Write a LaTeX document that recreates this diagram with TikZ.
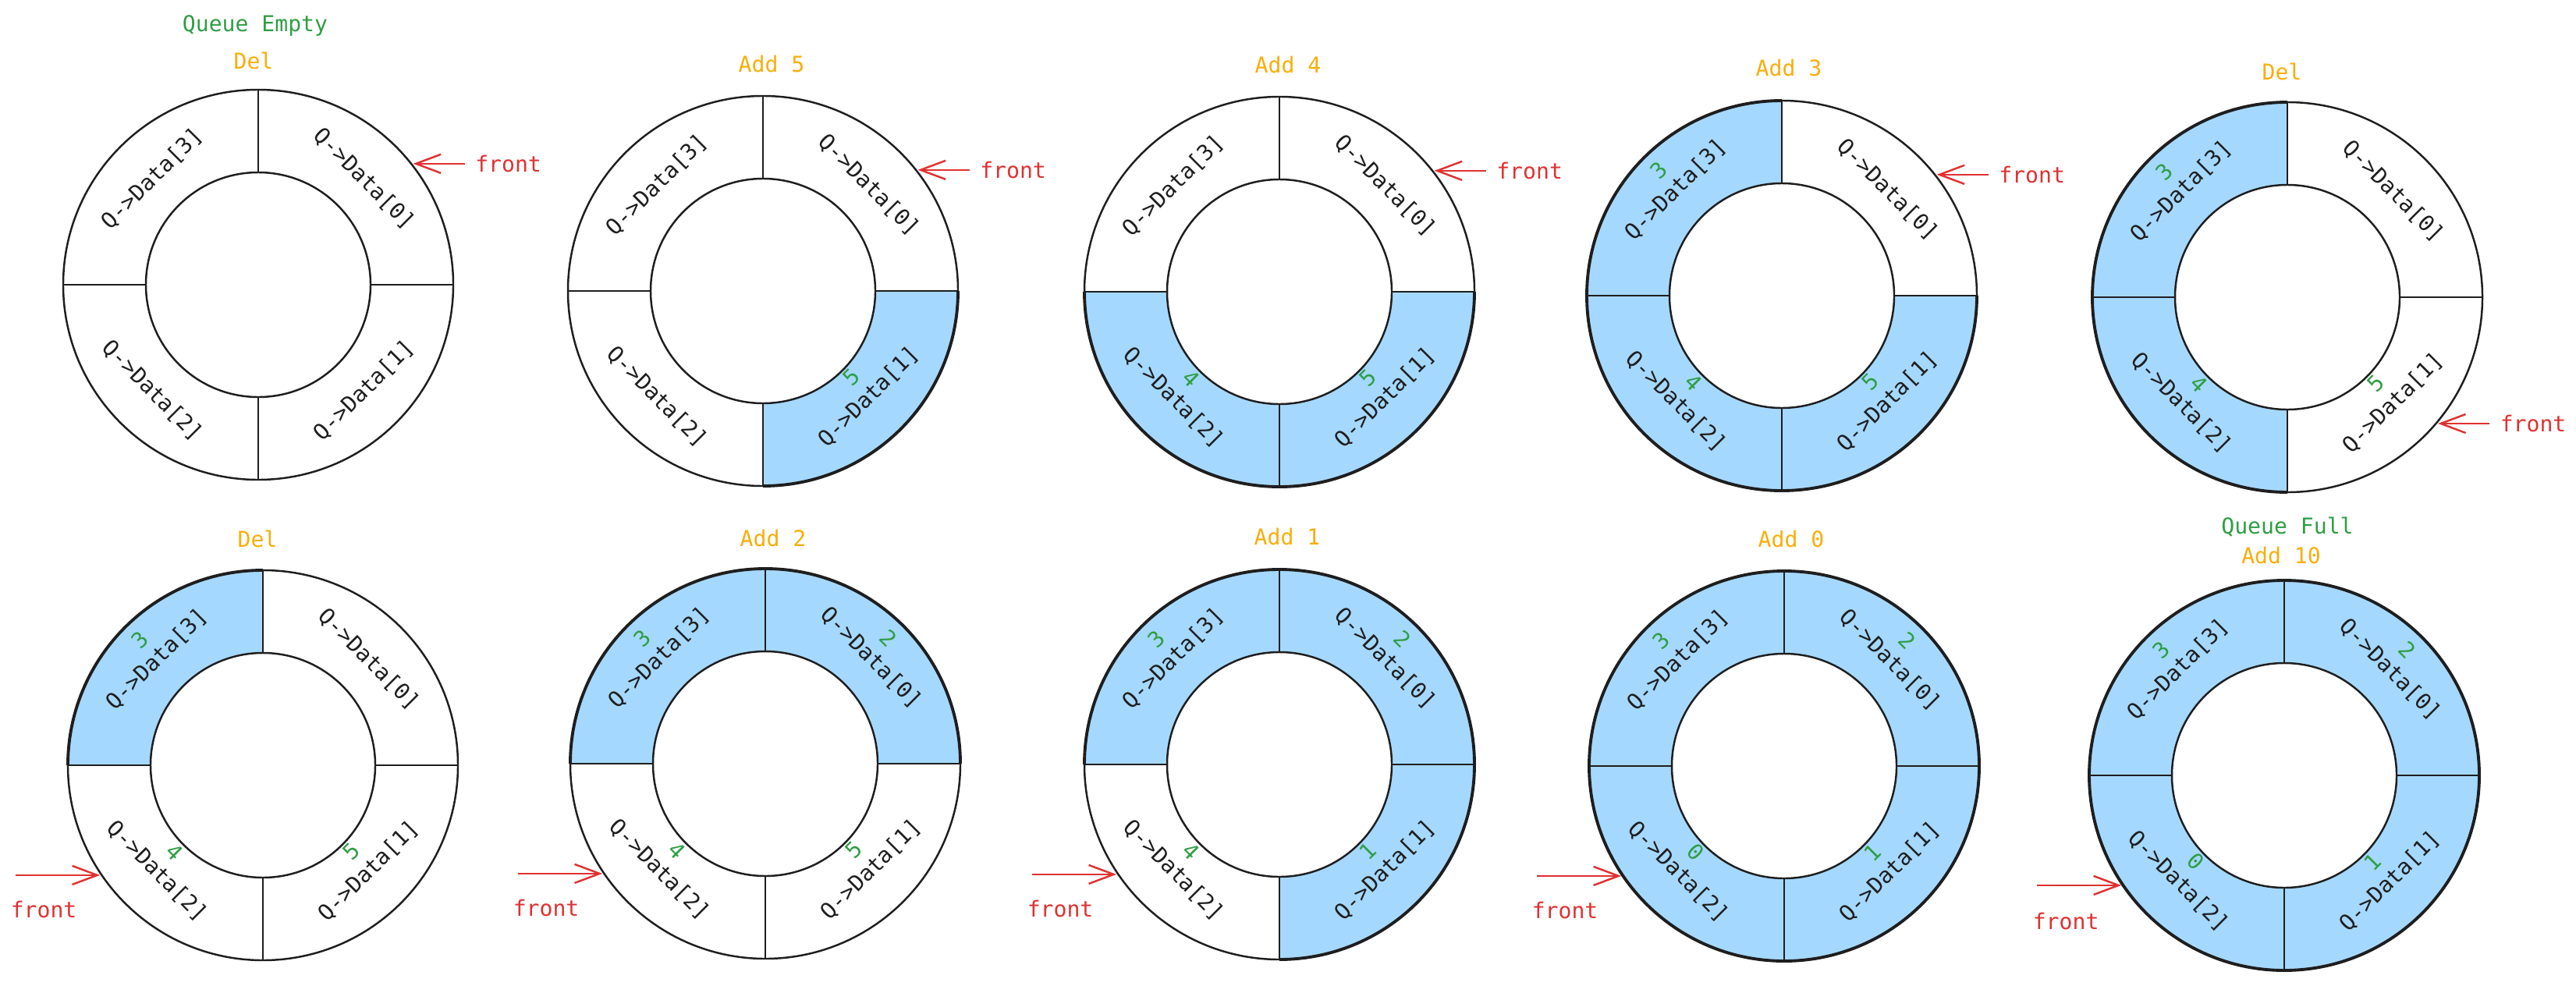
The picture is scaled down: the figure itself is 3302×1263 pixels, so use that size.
\documentclass[tikz,border=0pt]{standalone}
\usepackage{fontspec}
\setmonofont{DejaVu Sans Mono}
\usetikzlibrary{arrows.meta,positioning}
\definecolor{qblue}{HTML}{A5D8FF}
\definecolor{qgreen}{HTML}{2F9E44}
\definecolor{qorange}{HTML}{FAAD0A}
\definecolor{qred}{HTML}{E03131}
\definecolor{qink}{HTML}{1E1E1E}
\tikzset{
  ringline/.style={draw=qink, line width=0.7pt},
  slotlbl/.style={rotate=#1, font=\ttfamily\fontsize{8}{9}\selectfont,
                  text=qink, inner sep=1pt},
  numlbl/.style={rotate=#1, font=\ttfamily\fontsize{8}{9}\selectfont,
                 text=qgreen, inner sep=1pt},
  oplbl/.style={font=\ttfamily\fontsize{8}{9}\selectfont, text=qorange},
  statelbl/.style={font=\ttfamily\fontsize{8}{9}\selectfont, text=qgreen},
  frontlbl/.style={font=\ttfamily\fontsize{8}{9}\selectfont, text=qred,
                   inner sep=1.3mm},
  frontarrow/.style={draw=qred, line width=0.7pt,
                     -{Straight Barb[length=3.2mm, width=2.4mm]}}
}
\tikzset{slots/.pic={
  \foreach \s in {#1} {
    \fill[qblue] (-90*\s:250) arc[start angle=-90*\s, end angle=-90*\s+90, radius=250]
      -- (-90*\s+90:144) arc[start angle=-90*\s+90, end angle=-90*\s, radius=144] -- cycle;
    \draw[qink, line width=1.1pt] (-90*\s:250) arc[start angle=-90*\s, end angle=-90*\s+90, radius=250];
  }
}}
\tikzset{ringpic/.pic={
  \draw[ringline] (0,0) circle (250);
  \draw[ringline] (0,0) circle (144);
  \draw[ringline] (0,250) -- (0,144);
  \draw[ringline] (0,-144) -- (0,-250);
  \draw[ringline] (-250,0) -- (-144,0);
  \draw[ringline] (144,0) -- (250,0);
  \node[slotlbl=-45] (-d0) at (45:192) {Q->Data[0]};
  \node[slotlbl=45] (-d1) at (-45:192) {Q->Data[1]};
  \node[slotlbl=-45] (-d2) at (-135:192) {Q->Data[2]};
  \node[slotlbl=45] (-d3) at (135:192) {Q->Data[3]};
  \coordinate (-ne) at (38:252);
  \coordinate (-se) at (-40:252);
  \coordinate (-sw) at (-146:252);
}}

\begin{document}
\begin{tikzpicture}[x=0.1mm, y=0.1mm]
\useasboundingbox (0,0) rectangle (3302,-1263);
\pic at (978,-373) {slots={1}};
\pic at (1640,-374) {slots={1,2}};
\pic at (2284,-379) {slots={1,2,3}};
\pic at (2932,-381) {slots={2,3}};
\pic at (337,-981) {slots={3}};
\pic at (981,-979) {slots={0,3}};
\pic at (1640,-980) {slots={0,1,3}};
\pic at (2287,-982) {slots={0,1,2,3}};
\pic at (2928,-994) {slots={0,1,2,3}};
\pic (r1) at (331,-365) {ringpic};
\pic (r2) at (978,-373) {ringpic};
\pic (r3) at (1640,-374) {ringpic};
\pic (r4) at (2284,-379) {ringpic};
\pic (r5) at (2932,-381) {ringpic};
\pic (r6) at (337,-981) {ringpic};
\pic (r7) at (981,-979) {ringpic};
\pic (r8) at (1640,-980) {ringpic};
\pic (r9) at (2287,-982) {ringpic};
\pic (r10) at (2928,-994) {ringpic};
\node[statelbl] (s1) at (327,-33) {Queue Empty};
\node[oplbl] (op1) at (325,-78) {Del};
\node[oplbl] (op2) at (989,-82) {Add 5};
\node[oplbl] (op3) at (1651,-83) {Add 4};
\node[oplbl] (op4) at (2293,-87) {Add 3};
\node[oplbl] (op5) at (2925,-92) {Del};
\node[oplbl] (op6) at (330,-691) {Del};
\node[oplbl] (op7) at (991,-690) {Add 2};
\node[oplbl] (op8) at (1650,-688) {Add 1};
\node[oplbl] (op9) at (2296,-691) {Add 0};
\node[statelbl] (s10) at (2932,-676) {Queue Full};
\node[oplbl] (op10) at (2924,-712) {Add 10};
\node[numlbl=45, above=0.8pt of r2-d1] (n2b) {5};
\node[numlbl=45, above=0.8pt of r3-d1] (n3b) {5};
\node[numlbl=-45, above=0.8pt of r3-d2] (n3c) {4};
\node[numlbl=45, above=0.8pt of r4-d1] (n4b) {5};
\node[numlbl=-45, above=0.8pt of r4-d2] (n4c) {4};
\node[numlbl=45, above=0.8pt of r4-d3] (n4d) {3};
\node[numlbl=45, above=0.8pt of r5-d1] (n5b) {5};
\node[numlbl=-45, above=0.8pt of r5-d2] (n5c) {4};
\node[numlbl=45, above=0.8pt of r5-d3] (n5d) {3};
\node[numlbl=45, above=0.8pt of r6-d1] (n6b) {5};
\node[numlbl=-45, above=0.8pt of r6-d2] (n6c) {4};
\node[numlbl=45, above=0.8pt of r6-d3] (n6d) {3};
\node[numlbl=-45, above=0.8pt of r7-d0] (n7a) {2};
\node[numlbl=45, above=0.8pt of r7-d1] (n7b) {5};
\node[numlbl=-45, above=0.8pt of r7-d2] (n7c) {4};
\node[numlbl=45, above=0.8pt of r7-d3] (n7d) {3};
\node[numlbl=-45, above=0.8pt of r8-d0] (n8a) {2};
\node[numlbl=45, above=0.8pt of r8-d1] (n8b) {1};
\node[numlbl=-45, above=0.8pt of r8-d2] (n8c) {4};
\node[numlbl=45, above=0.8pt of r8-d3] (n8d) {3};
\node[numlbl=-45, above=0.8pt of r9-d0] (n9a) {2};
\node[numlbl=45, above=0.8pt of r9-d1] (n9b) {1};
\node[numlbl=-45, above=0.8pt of r9-d2] (n9c) {0};
\node[numlbl=45, above=0.8pt of r9-d3] (n9d) {3};
\node[numlbl=-45, above=0.8pt of r10-d0] (n10a) {2};
\node[numlbl=45, above=0.8pt of r10-d1] (n10b) {1};
\node[numlbl=-45, above=0.8pt of r10-d2] (n10c) {0};
\node[numlbl=45, above=0.8pt of r10-d3] (n10d) {3};
\node[frontlbl, right=6.6mm of r1-ne] (f1) {front};
\node[frontlbl, right=6.6mm of r2-ne] (f2) {front};
\node[frontlbl, right=6.6mm of r3-ne] (f3) {front};
\node[frontlbl, right=6.6mm of r4-ne] (f4) {front};
\node[frontlbl, right=6.6mm of r5-se] (f5) {front};
\draw[frontarrow] (f1.west) -- (r1-ne);
\draw[frontarrow] (f2.west) -- (r2-ne);
\draw[frontarrow] (f3.west) -- (r3-ne);
\draw[frontarrow] (f4.west) -- (r4-ne);
\draw[frontarrow] (f5.west) -- (r5-se);
\coordinate (t6) at ([xshift=-10.8mm]r6-sw);
\coordinate (t7) at ([xshift=-10.8mm]r7-sw);
\coordinate (t8) at ([xshift=-10.8mm]r8-sw);
\coordinate (t9) at ([xshift=-10.8mm]r9-sw);
\coordinate (t10) at ([xshift=-10.8mm]r10-sw);
\node[frontlbl] (f6) at ([xshift=3.6mm, yshift=-4.4mm]t6) {front};
\node[frontlbl] (f7) at ([xshift=3.6mm, yshift=-4.4mm]t7) {front};
\node[frontlbl] (f8) at ([xshift=3.6mm, yshift=-4.4mm]t8) {front};
\node[frontlbl] (f9) at ([xshift=3.6mm, yshift=-4.4mm]t9) {front};
\node[frontlbl] (f10) at ([xshift=3.7mm, yshift=-4.6mm]t10) {front};
\draw[frontarrow] (t6) -- (r6-sw);
\draw[frontarrow] (t7) -- (r7-sw);
\draw[frontarrow] (t8) -- (r8-sw);
\draw[frontarrow] (t9) -- (r9-sw);
\draw[frontarrow] (t10) -- (r10-sw);
\end{tikzpicture}
\end{document}
